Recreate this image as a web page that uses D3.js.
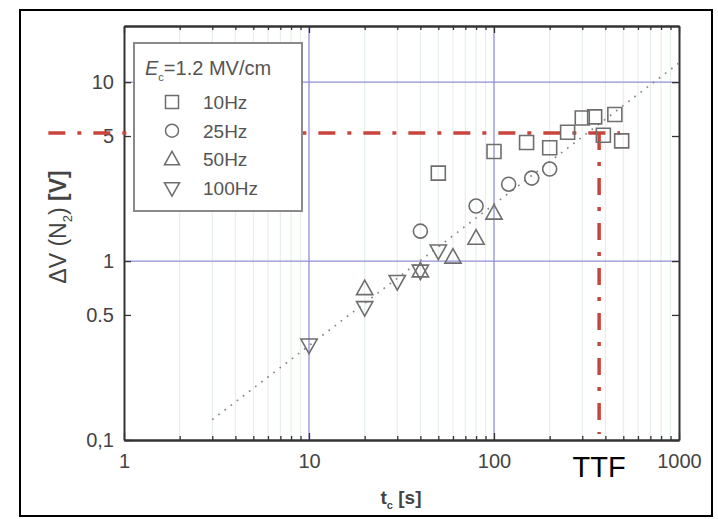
<!DOCTYPE html>
<html>
<head>
<meta charset="utf-8">
<script src="https://cdn.jsdelivr.net/npm/d3@7"></script>
<style>
body { margin: 0; background: #fff; }
text { font-family: "Liberation Sans", Arial, sans-serif; }
</style>
</head>
<body>
<div id="chart"></div>
<script>
// data: [t_c in s, dV in V]
const hz10  = [[50, 3.1], [100, 4.1], [150, 4.6], [200, 4.3], [250, 5.25], [300, 6.3], [350, 6.4], [450, 6.6], [390, 5.05], [490, 4.7]];
const hz25  = [[40, 1.47], [80, 2.03], [120, 2.69], [160, 2.91], [200, 3.27]];
const hz50  = [[20, 0.7], [40, 0.88], [60, 1.05], [80, 1.34], [100, 1.85]];
const hz100 = [[10, 0.34], [20, 0.55], [30, 0.77], [40, 0.88], [50, 1.14]];
const fitLine = [[3, 0.13], [1000, 12.8]];
const ttf = 370, ttfV = 5.2;
const xTicks = [1, 10, 100, 1000];
const yTicks = [0.1, 0.5, 1, 5, 10];
const yTickLabels = ["0,1", "0.5", "1", "5", "10"];
const legendNames = ["10Hz", "25Hz", "50Hz", "100Hz"];

const W = 718, H = 519;
const margin = {top: 26, right: 39, bottom: 79, left: 124},
  width = W - margin.left - margin.right,
  height = H - margin.top - margin.bottom;

const root = d3.select("#chart")
  .append("svg")
    .attr("width", W)
    .attr("height", H);

// outer black frame
root.append("rect")
  .attr("x", 20).attr("y", 10)
  .attr("width", 692).attr("height", 506)
  .attr("fill", "none")
  .attr("stroke", "#000")
  .attr("stroke-width", 2);

const svg = root.append("g")
  .attr("transform", `translate(${margin.left}, ${margin.top})`);

const x = d3.scaleLog().domain([1, 1000]).range([0, width]);
const y = d3.scaleLog().domain([0.1, 20.6]).range([height, 0]);

// minor vertical grid
const minorX = [];
[1, 10, 100].forEach(d => { for (let k = 2; k <= 9; k++) minorX.push(d * k); });
svg.append("g")
  .selectAll("line")
  .data(minorX)
  .join("line")
    .attr("x1", d => x(d)).attr("x2", d => x(d))
    .attr("y1", 0).attr("y2", height)
    .attr("stroke", "#e6f0e6")
    .attr("stroke-width", 1.2);

// major grid (blue)
svg.append("g")
  .selectAll("line")
  .data([10, 100])
  .join("line")
    .attr("x1", d => x(d)).attr("x2", d => x(d))
    .attr("y1", 0).attr("y2", height)
    .attr("stroke", "#8f8fd6")
    .attr("stroke-width", 1.3);
svg.append("g")
  .selectAll("line")
  .data([1, 10])
  .join("line")
    .attr("x1", 0).attr("x2", width)
    .attr("y1", d => y(d)).attr("y2", d => y(d))
    .attr("stroke", "#8f8fd6")
    .attr("stroke-width", 1.3);

// axes, ticks pointing inward
const axisStyle = g => {
  g.select(".domain").attr("stroke", "#333").attr("stroke-width", 2);
  g.selectAll(".tick line").attr("stroke", "#333").attr("stroke-width", 1.3);
  g.selectAll("text").attr("fill", "#444").attr("font-size", 20);
};

svg.append("g")
  .attr("transform", `translate(0, ${height})`)
  .call(d3.axisBottom(x).tickValues(xTicks).tickFormat(d3.format("d")).tickSizeInner(-7).tickSizeOuter(0).tickPadding(14))
  .call(axisStyle);
svg.append("g")
  .attr("transform", `translate(0, ${height})`)
  .call(d3.axisBottom(x).tickValues(minorX).tickFormat("").tickSizeInner(-4).tickSizeOuter(0))
  .call(axisStyle);
svg.append("g")
  .call(d3.axisTop(x).tickValues(xTicks).tickFormat("").tickSizeInner(-7).tickSizeOuter(0))
  .call(axisStyle);
svg.append("g")
  .call(d3.axisTop(x).tickValues(minorX).tickFormat("").tickSizeInner(-4).tickSizeOuter(0))
  .call(axisStyle);

svg.append("g")
  .call(d3.axisLeft(y).tickValues(yTicks).tickFormat((d, i) => yTickLabels[i]).tickSizeInner(-7).tickSizeOuter(0).tickPadding(10))
  .call(axisStyle);
svg.append("g")
  .attr("transform", `translate(${width}, 0)`)
  .call(d3.axisRight(y).tickValues(yTicks).tickFormat("").tickSizeInner(-7).tickSizeOuter(0))
  .call(axisStyle);

// axis labels
svg.append("text")
  .attr("x", x(10) + 92)
  .attr("y", height + 64)
  .attr("text-anchor", "middle")
  .attr("font-size", 19)
  .attr("font-weight", "bold")
  .attr("fill", "#444")
  .html('t<tspan font-size="11" dy="5">c</tspan><tspan dy="-5"> [s]</tspan>');

svg.append("text")
  .attr("transform", `translate(-58, ${y(1.55)}) rotate(-90)`)
  .attr("text-anchor", "middle")
  .attr("font-size", 23)
  .attr("fill", "#444")
  .html('ΔV (N<tspan font-size="13" dy="6">2</tspan><tspan dy="-6">) </tspan><tspan font-weight="bold">[V]</tspan>');

// fit line (dotted)
const line = d3.line().x(d => x(d[0])).y(d => y(d[1]));
svg.append("path")
  .datum(fitLine)
  .attr("d", line)
  .attr("fill", "none")
  .attr("stroke", "#888")
  .attr("stroke-width", 1.7)
  .attr("stroke-dasharray", "1.7 6");

// TTF guide lines (red dash-dot), below the legend
const red = "#c8443c";
svg.append("line")
  .attr("x1", x(0.39)).attr("x2", x(480))
  .attr("y1", y(ttfV)).attr("y2", y(ttfV))
  .attr("stroke", red)
  .attr("stroke-width", 3.5)
  .attr("stroke-dasharray", "17 12 4 12");
svg.append("line")
  .attr("x1", x(ttf)).attr("x2", x(ttf))
  .attr("y1", y(ttfV)).attr("y2", height - 6)
  .attr("stroke", red)
  .attr("stroke-width", 3.5)
  .attr("stroke-dasharray", "17 12 4 12");

// symbols
const mark = "#6e6e6e";
const triUp = s => `M0,${-s * 0.62}L${s * 0.58},${s * 0.42}L${-s * 0.58},${s * 0.42}Z`;
const triDown = s => `M0,${s * 0.62}L${s * 0.58},${-s * 0.42}L${-s * 0.58},${-s * 0.42}Z`;
const shapes = [
  s => `M${-s / 2},${-s / 2}h${s}v${s}h${-s}Z`,
  s => d3.symbol(d3.symbolCircle, Math.PI * (s / 2) * (s / 2))(),
  triUp,
  triDown
];
const series = [hz10, hz25, hz50, hz100];

series.forEach((data, i) => {
  svg.append("g")
    .selectAll("path")
    .data(data)
    .join("path")
      .attr("transform", d => `translate(${x(d[0])}, ${y(d[1])})`)
      .attr("d", shapes[i](14))
      .attr("fill", "none")
      .attr("stroke", mark)
      .attr("stroke-width", 1.6);
});

// legend
const leg = svg.append("g").attr("transform", "translate(10, 17)");
leg.append("rect")
  .attr("width", 168).attr("height", 168)
  .attr("fill", "#fff")
  .attr("stroke", "#8a8a8a")
  .attr("stroke-width", 2);
leg.append("text")
  .attr("x", 11).attr("y", 32)
  .attr("font-size", 20)
  .attr("fill", "#555")
  .html('<tspan font-style="italic">E</tspan><tspan font-size="11" dy="6">c</tspan><tspan dy="-6">=1.2 MV/cm</tspan>');
legendNames.forEach((name, i) => {
  const ly = 59 + i * 28.7;
  leg.append("path")
    .attr("transform", `translate(38, ${ly})`)
    .attr("d", shapes[i](13))
    .attr("fill", "none")
    .attr("stroke", mark)
    .attr("stroke-width", 1.5);
  leg.append("text")
    .attr("x", 69).attr("y", ly + 7)
    .attr("font-size", 19)
    .attr("fill", "#555")
    .text(name);
});

svg.append("text")
  .attr("x", x(ttf))
  .attr("y", height + 37)
  .attr("text-anchor", "middle")
  .attr("font-size", 29)
  .attr("fill", "#000")
  .text("TTF");
</script>
</body>
</html>
